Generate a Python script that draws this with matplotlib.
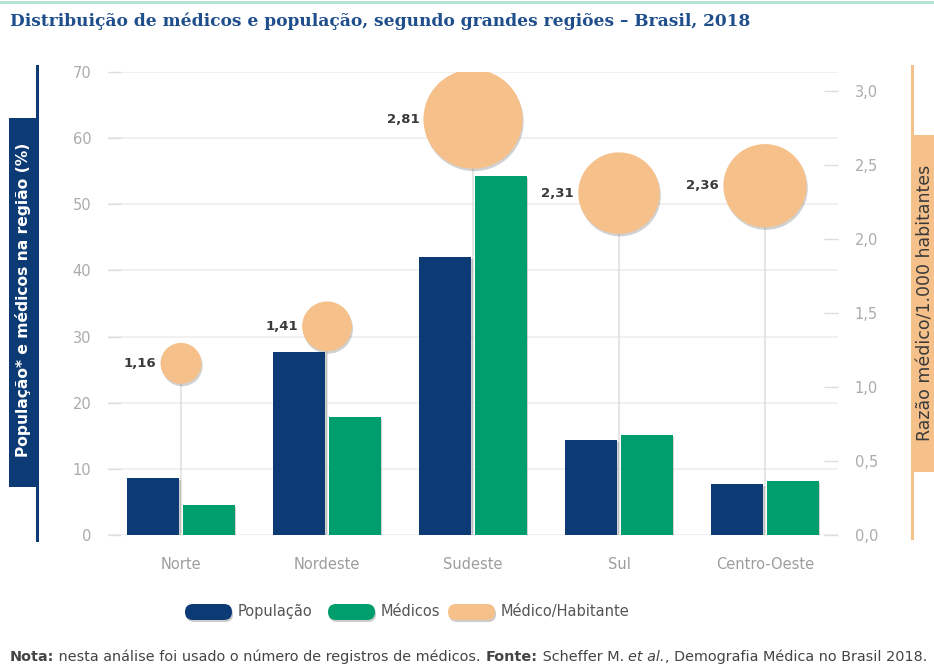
import matplotlib
matplotlib.use('Agg')
import matplotlib.pyplot as plt
import matplotlib.patheffects as pe
from matplotlib.patches import Rectangle, FancyBboxPatch
from matplotlib.transforms import IdentityTransform
import numpy as np

# ---------------- data ----------------
regions = ['Norte', 'Nordeste', 'Sudeste', 'Sul', 'Centro-Oeste']
populacao = [8.6, 27.7, 42.0, 14.4, 7.7]
medicos = [4.5, 17.8, 54.3, 15.1, 8.2]
razao = [1.16, 1.41, 2.81, 2.31, 2.36]
razao_labels = ['1,16', '1,41', '2,81', '2,31', '2,36']
left_ticks = [0, 10, 20, 30, 40, 50, 60, 70]
right_ticks = [0.0, 0.5, 1.0, 1.5, 2.0, 2.5, 3.0]
right_tick_labels = ['0,0', '0,5', '1,0', '1,5', '2,0', '2,5', '3,0']
legend_labels = ['População', 'Médicos', 'Médico/Habitante']

title = 'Distribuição de médicos e população, segundo grandes regiões – Brasil, 2018'
ylabel_left = 'População* e médicos na região (%)'
ylabel_right = 'Razão médico/1.000 habitantes'

C_BLUE = '#0b3a75'
C_GREEN = '#009e6d'
C_ORANGE = '#f5c08a'
C_TICK = '#ababab'
C_GRID = '#eeeeee'

W, H = 934, 669
def fx(px):
    return px / W
def fy(py):
    return 1 - py / H

fig = plt.figure(figsize=(W / 100, H / 100), dpi=100)
fig.patch.set_facecolor('white')

ax = fig.add_axes([fx(108), fy(535), (838 - 108) / W, (535 - 72) / H])
ax.set_xlim(-0.5, 4.5)
ax.set_ylim(0, 70)
ax2 = ax.twinx()
ax2.set_ylim(0, 463 / 148.0)

for a in (ax, ax2):
    for s in a.spines.values():
        s.set_visible(False)

x = np.arange(len(regions))
bw = 0.355
off = 0.19

# grid
ax.set_yticks(left_ticks)
ax.set_yticklabels([str(t) for t in left_ticks])
ax.yaxis.grid(True, color=C_GRID, lw=1.2, zorder=0)
ax.set_axisbelow(True)
ax.tick_params(axis='y', direction='in', length=9, width=1, color='#dddddd',
               labelcolor=C_TICK, labelsize=10.5, pad=12)
ax.set_xticks(x)
ax.set_xticklabels(regions)
ax.tick_params(axis='x', length=0, labelcolor='#9d9d9d', labelsize=10.5, pad=16)

ax2.set_yticks(right_ticks)
ax2.set_yticklabels(right_tick_labels)
ax2.tick_params(axis='y', direction='in', length=10, width=1, color='#dddddd',
                labelcolor=C_TICK, labelsize=10.5, pad=12)

# vertical connector lines (behind bars), expressed in left-axis units
scale = ax.get_ylim()[1] / ax2.get_ylim()[1]
ax.vlines(x, 0, np.array(razao) * scale, color='#e2e2e2', lw=1.2, zorder=1)

shadow = [pe.SimplePatchShadow(offset=(1.2, -1.5), shadow_rgbFace='k', alpha=0.18), pe.Normal()]
ax.bar(x - off, populacao, bw, color=C_BLUE, zorder=3, path_effects=shadow)
ax.bar(x + off, medicos, bw, color=C_GREEN, zorder=3, path_effects=shadow)

# bubbles
diam_pt = 25.4 * np.array(razao)
ax2.scatter(x, razao, s=diam_pt ** 2, color=C_ORANGE, zorder=5, linewidths=0,
            path_effects=[pe.SimplePatchShadow(offset=(0.8, -1.8), shadow_rgbFace='k', alpha=0.18), pe.Normal()])
for xi, v, lab, d in zip(x, razao, razao_labels, diam_pt):
    ax2.annotate(lab, (xi, v), xytext=(-(d / 2 + 3), 0), textcoords='offset points',
                 ha='right', va='center', fontsize=9.5, fontweight='bold', color='#3a3a3a', zorder=6)

# top rule
fig.add_artist(Rectangle((0, fy(4)), 1, 3 / H, transform=fig.transFigure,
                         color='#b6e2d2', lw=0))

# side label boxes
fig.add_artist(Rectangle((fx(36), fy(542)), 3 / W, (542 - 65) / H, transform=fig.transFigure,
                         color=C_BLUE, lw=0))
fig.add_artist(Rectangle((fx(9), fy(487)), 28 / W, (487 - 118) / H, transform=fig.transFigure,
                         color=C_BLUE, lw=0))
fig.text(fx(23), fy(300), ylabel_left, rotation=90, ha='center', va='center',
         color='white', fontsize=11.2, fontweight='bold')

fig.add_artist(Rectangle((fx(911), fy(540)), 3 / W, (540 - 65) / H, transform=fig.transFigure,
                         color=C_ORANGE, lw=0))
fig.add_artist(Rectangle((fx(911), fy(472)), 23 / W, (472 - 135) / H, transform=fig.transFigure,
                         color=C_ORANGE, lw=0))
fig.text(fx(925), fy(303), ylabel_right, rotation=90, ha='center', va='center',
         color='#3a3a3a', fontsize=12.5)

# legend (manual, rounded swatches)
leg_colors = [C_BLUE, C_GREEN, C_ORANGE]
leg_x = [185, 328, 448]
for c, lab, lx in zip(leg_colors, legend_labels, leg_x):
    p = FancyBboxPatch((lx, H - 620), 47, 16, boxstyle='round,pad=0,rounding_size=8',
                       transform=IdentityTransform(), color=c, lw=0,
                       path_effects=[pe.SimplePatchShadow(offset=(0.8, -1.5), shadow_rgbFace='k', alpha=0.2), pe.Normal()])
    fig.add_artist(p)
    fig.text(fx(lx + 53), fy(616), lab, ha='left', va='baseline', fontsize=10.5, color='#555555')

# title, fitted to width
renderer = fig.canvas.get_renderer()
t = fig.text(fx(10), fy(21), title, ha='left', va='center', fontsize=12,
             fontweight='bold', color='#1f4e8c', family='DejaVu Serif')
wpx = t.get_window_extent(renderer).width
t.set_fontsize(12 * 738 / wpx)

# footnote pieces, fitted to width
pieces = [('Nota:', 'bold', 'normal'),
          (' nesta análise foi usado o número de registros de médicos. ', 'normal', 'normal'),
          ('Fonte:', 'bold', 'normal'),
          (' Scheffer M. ', 'normal', 'normal'),
          ('et al.', 'normal', 'italic'),
          (', Demografia Médica no Brasil 2018.', 'normal', 'normal')]
fs = 8.0
txts = []
for s, wt, st in pieces:
    txts.append(fig.text(0, fy(661), s, ha='left', va='baseline', fontsize=fs,
                         fontweight=wt, fontstyle=st, color='#444444'))
total = sum(tt.get_window_extent(renderer).width for tt in txts)
fs2 = fs * 920 / total
cur = 10
for tt in txts:
    tt.set_fontsize(fs2)
    tt.set_x(fx(cur))
    cur += tt.get_window_extent(renderer).width

fig.savefig('out.png', dpi=100)
